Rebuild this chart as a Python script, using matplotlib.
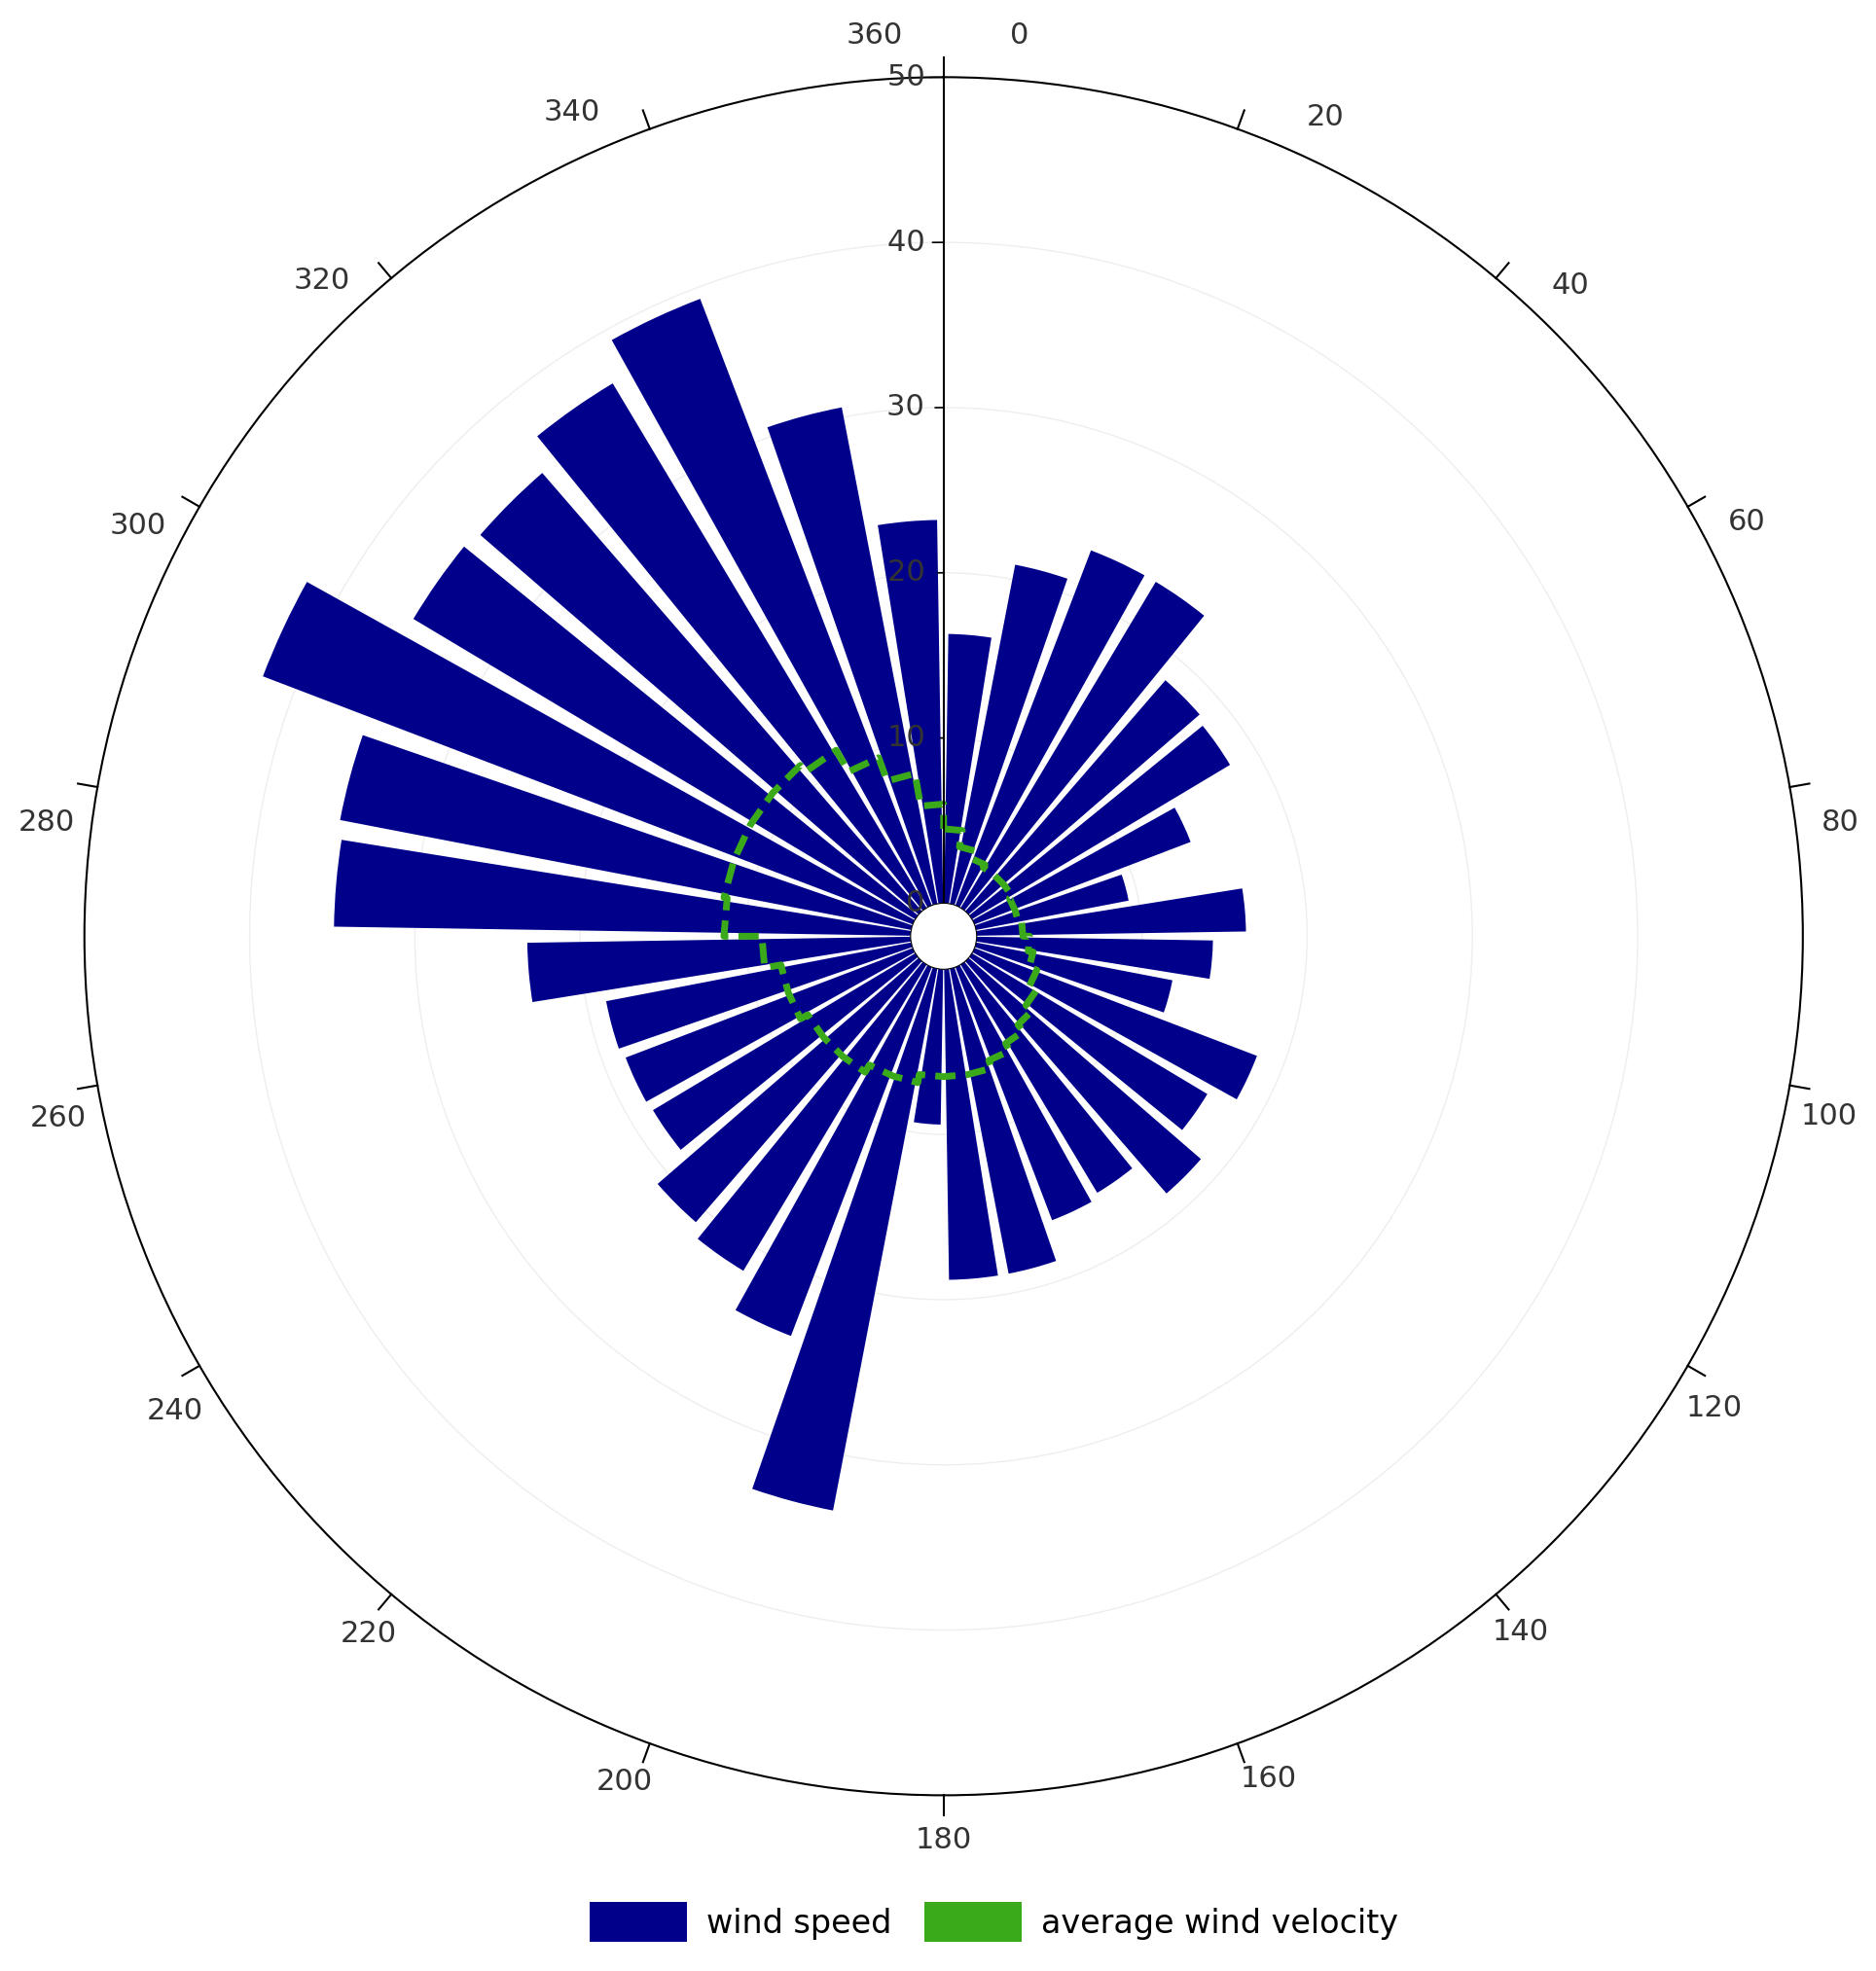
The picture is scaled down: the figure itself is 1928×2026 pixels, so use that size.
import numpy as np
import matplotlib
matplotlib.use('Agg')
import matplotlib.pyplot as plt
from matplotlib.patches import Patch

# bar directions (degrees, centre of each 10 degree sector)
directions = [5, 15, 25, 35, 45, 55, 65, 75, 85, 95, 105, 115, 125, 135, 145, 155, 165, 175,
              185, 195, 205, 215, 225, 235, 245, 255, 265, 275, 285, 295, 305, 315, 325, 335, 345, 355]
wind_speed = [16.3, 20.9, 23, 23, 18.5, 18.2, 14, 9.4, 16.3, 14.3, 12.1, 18.3, 16.6, 18.6, 16.1, 16.4, 18.8, 18.8,
              9.4, 33.4, 23.9, 21.6, 20.9, 18.5, 18.6, 18.8, 23.2, 34.9, 35.2, 42.1, 35.4, 35.1, 37, 39.3, 30.6, 23.2]
avg_velocity = [4.5, 3.5, 3, 2.8, 2.8, 2.8, 2.6, 2.6, 2.8, 3.2, 3.5, 4, 4.5, 5, 5.5, 6, 6.5, 6.5,
                6.5, 7, 7, 7.5, 7.5, 7.5, 8, 8, 9, 11.3, 11.5, 11.5, 11.5, 11.5, 11, 9.5, 8, 6]
r_ticks = [0, 10, 20, 30, 40, 50]
angle_labels = [0, 20, 40, 60, 80, 100, 120, 140, 160, 180, 200, 220, 240, 260, 280, 300, 320, 340, 360]
label_shift = [4.8, 5, 3.9, 2.7, 2.8, 1.5, 1.5, 0.3, -1.1, 0, 0.7, -0.5, -1.7, -1.6, -2.8, -3, -3.5, -4.3, -4.4]

fig = plt.figure(figsize=(19.28, 20.26), dpi=100)
ax = fig.add_axes([0.045, 0.089, 0.916, 0.872], projection='polar')
ax.set_theta_zero_location('N')
ax.set_theta_direction(-1)
ax.set_rorigin(-2)
ax.set_ylim(0, 50)

theta = np.deg2rad(directions)
ax.bar(theta, wind_speed, width=np.deg2rad(8.2), color='#00008b', zorder=2)

# average velocity as dashed stepped ring
th_edges = []
r_steps = []
for d, v in zip(directions, avg_velocity):
    th_edges += [np.deg2rad(d - 5), np.deg2rad(d + 5)]
    r_steps += [v, v]
th_edges.append(th_edges[0])
r_steps.append(r_steps[0])
ax.plot(th_edges, r_steps, color='#3aaa1a', lw=5, ls=(0, (3, 1.5)), zorder=3)

# grid and axes
ax.set_xticks([])
ax.set_yticks([10, 20, 30, 40])
ax.set_yticklabels([])
ax.yaxis.grid(True, color='#eeeeee', lw=1)
ax.xaxis.grid(False)
ax.spines['polar'].set_linewidth(1.5)

ax.plot([0, 0], [0, 50], color='black', lw=1.5, zorder=4)
for r in r_ticks:
    ax.text(0, r, str(r) + '  ', ha='right', va='center', fontsize=22, color='#333333', zorder=5)
    ax.plot([0, np.deg2rad(-0.9)], [r, r], color='black', lw=1.2, zorder=4)

for a in range(0, 360, 20):
    t = np.deg2rad(a)
    ax.plot([t, t], [50, 51.2], color='black', lw=1.5, clip_on=False)
for a, s in zip(angle_labels, label_shift):
    ax.text(np.deg2rad(a + s), 52.7, str(a), ha='center', va='center', fontsize=22, color='#333333')

handles = [Patch(facecolor='#00008b', label='wind speed'),
           Patch(facecolor='#3aaa1a', label='average wind velocity')]
fig.legend(handles=handles, loc='lower center', ncol=2, frameon=False, fontsize=24,
           bbox_to_anchor=(0.53, 0.0), handlelength=3, handleheight=1.5, columnspacing=1.0,
           handletextpad=0.6)

fig.savefig('out.png', dpi=100)
